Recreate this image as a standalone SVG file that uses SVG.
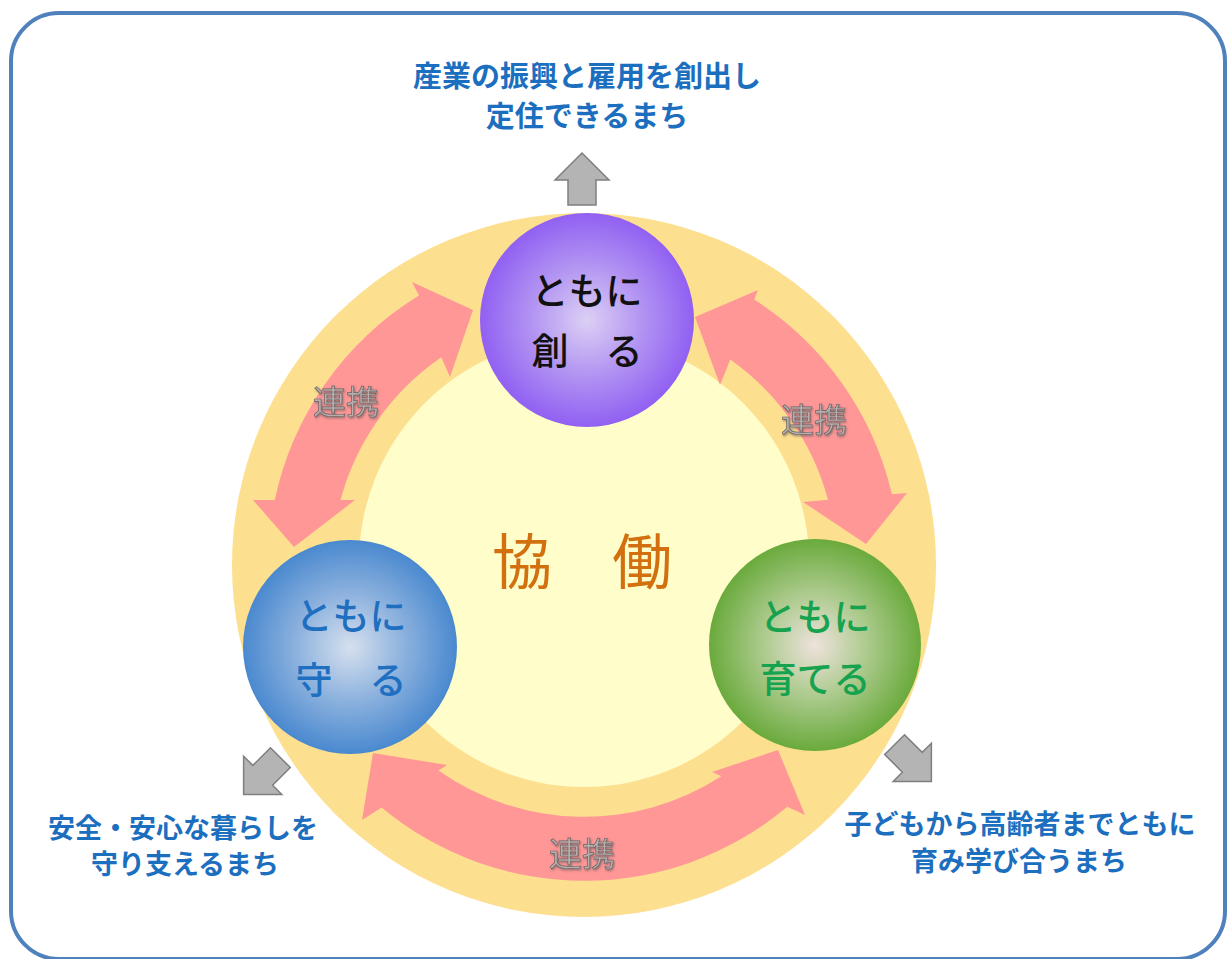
<svg xmlns="http://www.w3.org/2000/svg" width="1232" height="959" viewBox="0 0 1232 959">
<defs>
<radialGradient id="gPurple" cx="50%" cy="50%" r="50%">
<stop offset="0" stop-color="#DCD0F4"/>
<stop offset="0.5" stop-color="#B396F2"/>
<stop offset="1" stop-color="#9160F2"/>
</radialGradient>
<radialGradient id="gBlue" cx="50%" cy="50%" r="50%">
<stop offset="0" stop-color="#D6E0EE"/>
<stop offset="0.5" stop-color="#8DB2DE"/>
<stop offset="1" stop-color="#4A89CF"/>
</radialGradient>
<radialGradient id="gGreen" cx="50%" cy="50%" r="50%">
<stop offset="0" stop-color="#EEE2DC"/>
<stop offset="0.5" stop-color="#ABCA8C"/>
<stop offset="1" stop-color="#6AAA3C"/>
</radialGradient>
<filter id="emb" x="-20%" y="-20%" width="140%" height="140%">
<feDropShadow dx="1" dy="1.5" stdDeviation="1" flood-color="#555" flood-opacity="0.6"/>
</filter>
<path id="garrow" d="M0,-26 L27,1 L14,1 L14,26 L-14,26 L-14,1 L-27,1 Z"/>
</defs>
<style>
.frame{fill:#fff;stroke:#4F81BD;stroke-width:4}
.pink{fill:#FF9797}
.gray{fill:#B4B4B4;stroke:#7F7F7F;stroke-width:1.5}
.lbl{font-family:"Noto Sans CJK JP","Noto Sans",sans-serif;font-size:33px;fill:#B7AEAE;stroke:#6E6363;stroke-width:0.7;text-anchor:middle;dominant-baseline:central;filter:url(#emb)}
.ctext{font-family:"Noto Sans CJK JP","Noto Sans",sans-serif;font-size:37px;font-weight:500;text-anchor:middle;dominant-baseline:central}
.otext{font-family:"Noto Sans CJK JP","Noto Sans",sans-serif;font-weight:700;fill:#1C6EBE;text-anchor:middle;dominant-baseline:central}
</style>
<rect class="frame" x="11" y="13" width="1214" height="946" rx="48" ry="48"/>
<g id="ring">
<circle cx="584" cy="565" r="352" fill="#FDDF90"/>
<circle cx="584" cy="562" r="225" fill="#FFFDCA"/>
</g>
<g id="connectors">
<path class="pink" d="M473,310 L412,282 L418.9,295.6 A316,316 0 0 0 274.8,500 L253,500 L294,547 L355,500 L340.5,500 A252,252 0 0 1 441.3,357.3 L450,377 Z"/>
<path class="pink" d="M695,317 L758,290 L754.2,299.5 A316,316 0 0 1 891.9,494.3 L907,493 L866,544 L803,502 L828,499.8 A252,252 0 0 0 730.3,359.4 L720,385 Z"/>
<path class="pink" d="M373,753 L362,820 L381.6,807.4 A316,316 0 0 0 787.3,806.8 L805,815 L778,750 L712,772 L721.3,776.3 A252,252 0 0 1 438.5,770.5 L447,765 Z"/>
<text class="lbl" x="346" y="400">連携</text>
<text class="lbl" x="814" y="418">連携</text>
<text class="lbl" x="582" y="852">連携</text>
<use href="#garrow" class="gray" transform="translate(582,179)"/>
<use href="#garrow" class="gray" transform="translate(262,776) rotate(-135)"/>
<use href="#garrow" class="gray" transform="translate(913,763) rotate(135)"/>
</g>
<g id="node-kyodo">
<text x="582" y="557" font-family="'Noto Sans CJK JP',sans-serif" font-size="60" fill="#D2700F" text-anchor="middle" dominant-baseline="central">協　働</text>
</g>
<g id="node-tsukuru">
<circle cx="587" cy="320" r="107" fill="url(#gPurple)"/>
<text class="ctext" x="587" y="289" fill="#111">ともに</text>
<text class="ctext" x="587" y="349" fill="#111">創　る</text>
</g>
<g id="node-mamoru">
<circle cx="350" cy="647" r="107" fill="url(#gBlue)"/>
<text class="ctext" x="351" y="614" fill="#1F6FC0">ともに</text>
<text class="ctext" x="351" y="678" fill="#1F6FC0">守　る</text>
</g>
<g id="node-sodateru">
<circle cx="815" cy="645" r="106" fill="url(#gGreen)"/>
<text class="ctext" x="815" y="615" fill="#17A250">ともに</text>
<text class="ctext" x="815" y="677" fill="#17A250">育てる</text>
</g>
<g id="goal-top">
<text class="otext" x="587" y="74" font-size="29">産業の振興と雇用を創出し</text>
<text class="otext" x="587" y="114" font-size="29">定住できるまち</text>
</g>
<g id="goal-left">
<text class="otext" x="183" y="826" font-size="27">安全・安心な暮らしを</text>
<text class="otext" x="185" y="862" font-size="27">守り支えるまち</text>
</g>
<g id="goal-right">
<text class="otext" x="1020" y="822" font-size="27">子どもから高齢者までともに</text>
<text class="otext" x="1019" y="859" font-size="27">育み学び合うまち</text>
</g>
</svg>
